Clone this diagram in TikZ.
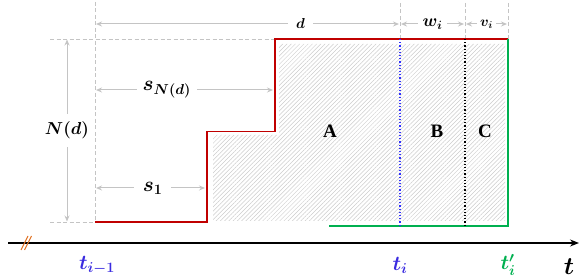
\documentclass[tikz,border=0pt]{standalone}
\usepackage{amsmath,bm}
\usepackage{fontspec}
\setmainfont{Liberation Serif}
\usetikzlibrary{arrows.meta,patterns.meta}
\definecolor{dimgray}{HTML}{C4C4C4}
\definecolor{stepred}{HTML}{C00000}
\definecolor{tblue}{HTML}{3A2BE0}
\definecolor{lineblue}{HTML}{2F2FFF}
\definecolor{tgreen}{HTML}{00B050}
\definecolor{brk}{HTML}{E07020}
\tikzset{
  guide/.style={draw=dimgray, line width=0.9pt, dash pattern=on 4pt off 2.5pt},
  dimarrow/.style={draw=dimgray, line width=1pt, {Stealth[length=6pt,width=5pt]}-{Stealth[length=6pt,width=5pt]}},
  dimlabel/.style={fill=white, inner sep=2pt},
  region/.style={font=\bfseries\fontsize{19}{21}\selectfont},
}
\begin{document}
\begin{tikzpicture}[x=1pt,y=-1pt]
\useasboundingbox (0,0) rectangle (581,280);
% coordinates
\coordinate (o) at (95,222);
\coordinate (s1) at (207,222);
\coordinate (s1t) at (207,131.5);
\coordinate (s2) at (275,131.5);
\coordinate (s2t) at (275,39);
\coordinate (ti) at (400,39);
\coordinate (mid) at (465,39);
\coordinate (tp) at (508,39);
\coordinate (gb) at (508,226);
\coordinate (gs) at (329,226);
% hatching
\fill[pattern={Lines[angle=45,distance=3pt,line width=0.5pt]}, pattern color=black!20]
  (213,135) -- (279,135) -- (279,44) -- (505,44) -- (505,221) -- (213,221) -- cycle;
% guides
\draw[guide] (95,2) -- (o);
\draw[guide] (50,39) -- (s2t);
\draw[guide] (50,222) -- (o);
\draw[guide] (400,3) -- (ti);
\draw[guide] (465,3) -- (mid);
\draw[guide] (508,3) -- (tp);
% dimension arrows
\coordinate (nda) at (67,39.5);
\coordinate (ndb) at (67,221.5);
\draw[dimarrow] (nda) -- node[dimlabel, inner ysep=8pt] (ndl) {\fontsize{19}{22}\selectfont$\boldsymbol{N(d)}$} (ndb);
\coordinate (da) at (96,24);
\coordinate (db) at (399,24);
\draw[dimarrow] (da) -- node[dimlabel, pos=0.675, inner xsep=8pt] (dl) {\fontsize{14}{16}\selectfont$\boldsymbol{d}$} (db);
\coordinate (wa) at (401,24);
\coordinate (wb) at (464,24);
\draw[dimarrow] (wa) -- node[dimlabel, inner xsep=5pt] (wl) {\fontsize{17}{19}\selectfont$\boldsymbol{w_i}$} (wb);
\coordinate (va) at (466,24);
\coordinate (vb) at (507,24);
\draw[dimarrow] (va) -- node[dimlabel, inner xsep=3pt] (vl) {\fontsize{14}{16}\selectfont$\boldsymbol{v_i}$} (vb);
\coordinate (sna) at (96,90);
\coordinate (snb) at (273,90);
\draw[dimarrow] (sna) -- node[dimlabel, pos=0.4, inner xsep=6pt] (snl) {\fontsize{20}{23}\selectfont$\boldsymbol{s_{N(d)}}$} (snb);
\coordinate (sa) at (96,188);
\coordinate (sb) at (205,188);
\draw[dimarrow] (sa) -- node[dimlabel, pos=0.52, inner xsep=9pt] (sl) {\fontsize{20}{23}\selectfont$\boldsymbol{s_1}$} (sb);
% step curve
\draw[stepred, line width=1.7pt] (o) -- (s1) -- (s1t) -- (s2) -- (s2t) -- (tp);
% green
\draw[tgreen, line width=1.7pt] (gs) -- (gb) -- (tp);
% dotted lines
\draw[lineblue, dotted, line width=1.2pt] (ti) -- (400,226);
\draw[black, dotted, line width=1.2pt] (mid) -- (465,226);
% region labels
\node[region] (A) at (330,131) {A};
\node[region] (B) at (437,131) {B};
\node[region] (C) at (485,131) {C};
% axis
\coordinate (ax0) at (8,243);
\coordinate (ax1) at (579,243);
\draw[line width=1.4pt, -{Stealth[length=9pt,width=7pt]}] (ax0) -- (ax1);
\draw[brk, line width=0.9pt] (21,250) -- (28,236) (24.5,250) -- (31.5,236);
% axis labels
\node[text=tblue] (tim1) at (97,265) {\fontsize{20}{23}\selectfont$\boldsymbol{t_{i-1}}$};
\node[text=tblue] (til) at (400,265) {\fontsize{20}{23}\selectfont$\boldsymbol{t_{i}}$};
\node[text=tgreen] (tpl) at (508,265) {\fontsize{20}{23}\selectfont$\boldsymbol{t'_{i}}$};
\node (tl) at (569,267) {\fontsize{24}{27}\selectfont$\boldsymbol{t}$};
\end{tikzpicture}
\end{document}
